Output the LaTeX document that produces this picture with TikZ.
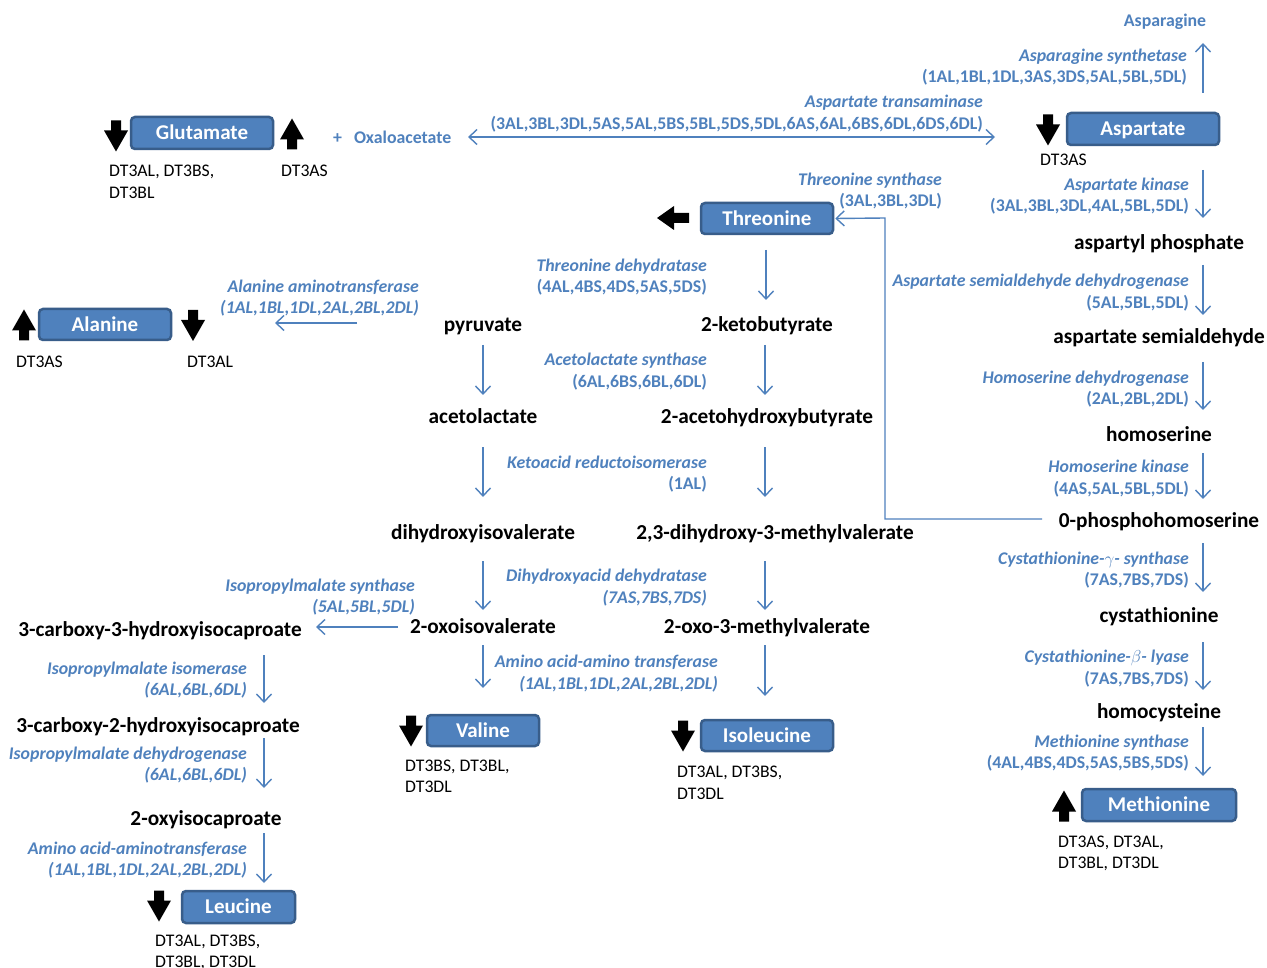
\documentclass[tikz,border=0pt]{standalone}
\usepackage{fontspec}
\setmainfont{Carlito}
\usetikzlibrary{arrows.meta,calc}
\definecolor{bl}{HTML}{4F81BD}
\definecolor{bldark}{HTML}{385D8A}
\tikzset{
  x=1pt,y=-1pt,
  met/.style={font=\fontsize{21.3}{25}\selectfont\bfseries, inner sep=0pt, text height=15.5pt, text depth=3pt, yshift=-1.5pt},
  enzname/.style={text=bl, font=\fontsize{17.8}{21}\selectfont\bfseries\itshape, inner sep=0pt, text height=13pt, text depth=3pt, yshift=-1.5pt},
  codeup/.style={text=bl, font=\fontsize{17.8}{21}\selectfont\bfseries, inner sep=0pt, text height=13pt, text depth=3pt, yshift=-1.5pt},
  codeit/.style={codeup, font=\fontsize{17.8}{21}\selectfont\bfseries\itshape},
  dtlab/.style={font=\fontsize{17.7}{21}\selectfont, inner sep=0pt, text height=13pt, text depth=3pt, anchor=west, yshift=-1.5pt},
  aabox/.style={draw=bldark, line width=2.5pt, fill=bl, rounded corners=4pt, text=white,
     font=\fontsize{21}{25}\selectfont\bfseries, inner sep=0pt, text height=13.5pt, text depth=0pt},
  flow/.style={draw=bl, line width=1.4pt, -{Straight Barb[length=8pt,width=15pt,line width=1.4pt]}},
  blkup/.pic={\fill[black] (-5,15.5) -- (5,15.5) -- (5,5.5) -- (12,5.5) -- (0,-15.5) -- (-12,5.5) -- (-5,5.5) -- cycle;},
  blkleft/.pic={\fill[black] (-5,16) -- (5,16) -- (5,1) -- (12,1) -- (0,-16) -- (-12,1) -- (-5,1) -- cycle;}
}
\newcommand{\enzlabel}[7]{%
  \node[enzname, anchor=east] (#1) at (#2,#3) {#5};
  \node[#7, anchor=east] (#1-c) at (#2,#4) {#6};}
\begin{document}
\begin{tikzpicture}
\fill[white] (0,0) rectangle (1267,968);
\useasboundingbox (0,0) rectangle (1267,968);

% ---------- amino acid boxes ----------
\node[aabox, minimum width=142pt, minimum height=32pt] (glu) at (202,133) {Glutamate};
\node[aabox, minimum width=152pt, minimum height=32pt] (asp) at (1143,129) {Aspartate};
\node[aabox, minimum width=132pt, minimum height=31pt] (thr) at (767,218.5) {Threonine};
\node[aabox, minimum width=132pt, minimum height=31pt] (ala) at (105,324.5) {Alanine};
\node[aabox, minimum width=112pt, minimum height=31pt] (val) at (483,730.5) {Valine};
\node[aabox, minimum width=132pt, minimum height=31pt] (ile) at (767,735.5) {Isoleucine};
\node[aabox, minimum width=113pt, minimum height=32pt] (leu) at (238.5,907) {Leucine};
\node[aabox, minimum width=154pt, minimum height=32pt] (met) at (1159,805) {Methionine};

% ---------- block arrows ----------
\pic[rotate=180] at (116,136) {blkup};
\pic at (292,134) {blkup};
\pic[rotate=180] at (1048,130) {blkup};
\pic[rotate=90] at (673,218) {blkleft};
\pic at (24,325) {blkup};
\pic[rotate=180] at (193,325.5) {blkup};
\pic[rotate=180] at (411,731) {blkup};
\pic[rotate=180] at (683,736) {blkup};
\pic[rotate=180] at (159,906) {blkup};
\pic at (1064,806) {blkup};

% ---------- DT labels ----------
\node[dtlab] (dglu1) at (109,170) {DT3AL, DT3BS,};
\node[dtlab] (dglu2) at (109,192) {DT3BL};
\node[dtlab] (dglu3) at (281,170) {DT3AS};
\node[dtlab] (dasp) at (1040,159) {DT3AS};
\node[dtlab] (dala1) at (16,361) {DT3AS};
\node[dtlab] (dala2) at (187,361) {DT3AL};
\node[dtlab] (dval1) at (405,765) {DT3BS, DT3BL,};
\node[dtlab] (dval2) at (405,786) {DT3DL};
\node[dtlab] (dile1) at (677,771) {DT3AL, DT3BS,};
\node[dtlab] (dile2) at (677,793) {DT3DL};
\node[dtlab] (dleu1) at (155,940) {DT3AL, DT3BS,};
\node[dtlab] (dleu2) at (155,961) {DT3BL, DT3DL};
\node[dtlab] (dmet1) at (1058,841) {DT3AS, DT3AL,};
\node[dtlab] (dmet2) at (1058,862) {DT3BL, DT3DL};

% ---------- metabolites ----------
\node[met] (aspp) at (1159,242) {aspartyl phosphate};
\node[met] (asa) at (1159,336) {aspartate semialdehyde};
\node[met] (hser) at (1159,434) {homoserine};
\node[met] (phs) at (1159,520) {0-phosphohomoserine};
\node[met] (cth) at (1159,615) {cystathionine};
\node[met] (hcy) at (1159,711) {homocysteine};
\node[met] (pyr) at (483,324) {pyruvate};
\node[met] (kb) at (767,324) {2-ketobutyrate};
\node[met] (acl) at (483,416) {acetolactate};
\node[met] (ahb) at (767,416) {2-acetohydroxybutyrate};
\node[met] (dhiv) at (483,532) {dihydroxyisovalerate};
\node[met] (dhmv) at (775,532) {2,3-dihydroxy-3-methylvalerate};
\node[met] (kiv) at (483,626) {2-oxoisovalerate};
\node[met] (kmv) at (767,626) {2-oxo-3-methylvalerate};
\node[met] (c3h) at (160,629) {3-carboxy-3-hydroxyisocaproate};
\node[met] (c2h) at (158,725) {3-carboxy-2-hydroxyisocaproate};
\node[met] (kic) at (206,818) {2-oxyisocaproate};

% ---------- other blue texts ----------
\node[codeup] (asn) at (1165,20) {Asparagine};
\node[codeup, anchor=west] (oaa) at (333,137) {+\hspace{12pt}Oxaloacetate};

% ---------- enzyme labels ----------
\enzlabel{e-asn}{1187}{55}{76}{Asparagine synthetase}{(1AL,1BL,1DL,3AS,3DS,5AL,5BL,5DL)}{codeup}
\enzlabel{e-ast}{983}{101}{123}{Aspartate transaminase}{(3AL,3BL,3DL,5AS,5AL,5BS,5BL,5DS,5DL,6AS,6AL,6BS,6DL,6DS,6DL)}{codeup}
\enzlabel{e-ak}{1189}{184}{205}{Aspartate kinase}{(3AL,3BL,3DL,4AL,5BL,5DL)}{codeup}
\enzlabel{e-asd}{1189}{280}{302}{Aspartate semialdehyde dehydrogenase}{(5AL,5BL,5DL)}{codeup}
\enzlabel{e-hd}{1189}{377}{398}{Homoserine dehydrogenase}{(2AL,2BL,2DL)}{codeup}
\enzlabel{e-hk}{1189}{466}{488}{Homoserine kinase}{(4AS,5AL,5BL,5DL)}{codeup}
\enzlabel{e-cgs}{1189}{558}{579}{Cystathionine-$\gamma$- synthase}{(7AS,7BS,7DS)}{codeup}
\enzlabel{e-cbl}{1189}{656}{678}{Cystathionine-$\beta$- lyase}{(7AS,7BS,7DS)}{codeup}
\enzlabel{e-ms}{1189}{741}{762}{Methionine synthase}{(4AL,4BS,4DS,5AS,5BS,5DS)}{codeup}
\enzlabel{e-ts}{942}{179}{200}{Threonine synthase}{(3AL,3BL,3DL)}{codeup}
\enzlabel{e-tdh}{707}{265}{286}{Threonine dehydratase}{(4AL,4BS,4DS,5AS,5DS)}{codeup}
\enzlabel{e-als}{707}{359}{381}{Acetolactate synthase}{(6AL,6BS,6BL,6DL)}{codeup}
\enzlabel{e-kari}{707}{462}{483}{Ketoacid reductoisomerase}{(1AL)}{codeup}
\enzlabel{e-dhad}{707}{575}{597}{Dihydroxyacid dehydratase}{(7AS,7BS,7DS)}{codeit}
\enzlabel{e-aat}{718}{661}{683}{Amino acid-amino transferase}{(1AL,1BL,1DL,2AL,2BL,2DL)}{codeit}
\enzlabel{e-ala}{419}{286}{307}{Alanine aminotransferase}{(1AL,1BL,1DL,2AL,2BL,2DL)}{codeit}
\enzlabel{e-ipms}{415}{585}{606}{Isopropylmalate synthase}{(5AL,5BL,5DL)}{codeit}
\enzlabel{e-ipmi}{247}{668}{689}{Isopropylmalate isomerase}{(6AL,6BL,6DL)}{codeit}
\enzlabel{e-ipmd}{247}{753}{774}{Isopropylmalate dehydrogenase}{(6AL,6BL,6DL)}{codeit}
\enzlabel{e-aat2}{247}{848}{869}{Amino acid-aminotransferase}{(1AL,1BL,1DL,2AL,2BL,2DL)}{codeit}

% ---------- vertical reaction arrows ----------
\foreach \n/\x/\ya/\yb in {
  asn/1203/93/43, ak/1203/170/218, asd/1203/265/315, hd/1203/362/410,
  hk/1203/453/499, cgs/1203/543/592, cbl/1203/642/690, ms/1203/727/776,
  tdh/766/250/300, als1/483/345/395, als2/765/345/395,
  kari1/483/447/497, kari2/765/447/497, dhad1/483/561/610, dhad2/765/561/610,
  aat1/483/645/688, aat2/765/645/696,
  ipmi/264/655/703, ipmd/264/738/788, aat3/264/833/883}
{
  \coordinate (\n-s) at (\x,\ya);
  \coordinate (\n-e) at (\x,\yb);
  \draw[flow] (\n-s) -- (\n-e);
}

% ---------- horizontal arrows ----------
\coordinate (ala-s) at (357,323);
\coordinate (ala-e) at (275,323);
\draw[flow] (ala-s) -- (ala-e);
\coordinate (ipms-s) at (398,627);
\coordinate (ipms-e) at (316,627);
\draw[flow] (ipms-s) -- (ipms-e);
\coordinate (ast-l) at (468,137);
\coordinate (ast-r) at (995,137);
\draw[flow, {Straight Barb[length=8pt,width=15pt,line width=1.4pt]}-{Straight Barb[length=8pt,width=15pt,line width=1.4pt]}] (ast-l) -- (ast-r);

% ---------- threonine synthase connector ----------
\coordinate (ts-s) at (1042,519);
\coordinate (ts-k) at (885,218);
\draw[flow] (ts-s) -| (ts-k) -- ([xshift=1pt]thr.east);
\end{tikzpicture}
\end{document}
